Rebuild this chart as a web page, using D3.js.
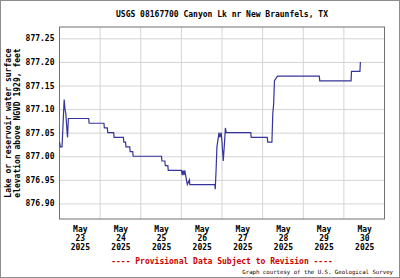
<!DOCTYPE html>
<html>
<head>
<meta charset="utf-8">
<script src="https://cdn.jsdelivr.net/npm/d3@7"></script>
<style>
  body { margin: 0; background: #fff; }
  svg { display: block; }
  text { font-family: "DejaVu Sans Mono", monospace; }
</style>
</head>
<body>
<div id="graph"></div>
<script>
const WIDTH = 400, HEIGHT = 278;
const margin = {top: 27, right: 15.5, bottom: 59, left: 59.5};

// readings: time (UTC, 2025) and gage height
const times = [
  "05-23 00:00", "05-23 00:30", "05-23 01:30", "05-23 02:00", "05-23 02:45", "05-23 03:15",
  "05-23 03:45", "05-23 04:30", "05-23 04:45", "05-23 05:15", "05-23 17:15", "05-23 17:30",
  "05-24 02:15", "05-24 02:30", "05-24 04:15", "05-24 04:30", "05-24 08:00", "05-24 08:15",
  "05-24 13:45", "05-24 14:00", "05-24 15:00", "05-24 15:15", "05-24 17:30", "05-24 17:45",
  "05-24 19:15", "05-24 19:30", "05-25 12:15", "05-25 12:30", "05-25 14:15", "05-25 14:30",
  "05-25 16:00", "05-25 16:15", "05-26 00:00", "05-26 00:30", "05-26 01:00", "05-26 01:30",
  "05-26 02:00", "05-26 03:00", "05-26 03:30", "05-26 04:45", "05-26 05:00", "05-26 19:45",
  "05-26 20:00", "05-26 20:30", "05-26 21:00", "05-26 22:15", "05-26 22:45", "05-26 23:30",
  "05-27 00:00", "05-27 00:45", "05-27 01:30", "05-27 02:00", "05-27 02:30", "05-27 17:00",
  "05-27 17:15", "05-28 02:45", "05-28 03:00", "05-28 05:30", "05-28 06:00", "05-28 06:30",
  "05-28 07:00", "05-28 08:45", "05-29 09:30", "05-29 09:45", "05-30 04:15", "05-30 04:30",
  "05-30 09:30", "05-30 09:45"
];
const levels = [
  877.03, 877.02, 877.02, 877.06, 877.12, 877.10,
  877.09, 877.05, 877.04, 877.08, 877.08, 877.07,
  877.07, 877.06, 877.06, 877.05, 877.05, 877.04,
  877.04, 877.03, 877.03, 877.02, 877.02, 877.01,
  877.01, 877.00, 877.00, 876.99, 876.99, 876.98,
  876.98, 876.97, 876.97, 876.96, 876.97, 876.96,
  876.97, 876.95, 876.94, 876.95, 876.94, 876.94,
  876.93, 876.97, 877.02, 877.05, 877.04, 877.05,
  877.03, 876.99, 877.03, 877.06, 877.05, 877.05,
  877.04, 877.04, 877.03, 877.03, 877.09, 877.11,
  877.16, 877.17, 877.17, 877.16, 877.16, 877.18,
  877.18, 877.20
];

const yTicks = [876.90, 876.95, 877.00, 877.05, 877.10, 877.15, 877.20, 877.25];
const dayLabels = ["23", "24", "25", "26", "27", "28", "29", "30"];

const parseTime = d3.utcParse("%Y-%m-%d %H:%M");
let data = times.map(function(t, i) { return {date: parseTime("2025-" + t), value: levels[i]}; });

let plot_width = WIDTH - margin.left - margin.right;
let plot_height = HEIGHT - margin.top - margin.bottom;

let svg = d3.select("#graph")
    .append("svg")
    .attr("width", WIDTH)
    .attr("height", HEIGHT);

// outer frame
svg.append("rect")
    .attr("x", 0.5).attr("y", 0.5)
    .attr("width", WIDTH - 1).attr("height", HEIGHT - 1)
    .attr("fill", "none").attr("stroke", "#8c8c8c");

let g = svg.append("g")
    .attr("transform", `translate(${margin.left}, ${margin.top})`);

let x = d3.scaleUtc()
    .domain([parseTime("2025-05-23 00:00"), parseTime("2025-05-31 00:00")])
    .range([0, plot_width]);

let y = d3.scaleLinear()
    .domain([876.867, 877.274])
    .range([plot_height, 0]);

// horizontal grid + y labels
let yAxis = g.append("g")
    .call(d3.axisLeft(y).tickValues(yTicks).tickSize(-plot_width).tickPadding(5)
        .tickFormat(d3.format(".2f")));
yAxis.select(".domain").remove();
yAxis.selectAll("line").attr("stroke", "#d4d4d4");
yAxis.selectAll("text")
    .style("font-size", "8px")
    .style("font-weight", "bold")
    .attr("fill", "#000");

// vertical grid at midnight
let midnights = dayLabels.slice(1).map(function(d) { return parseTime("2025-05-" + d + " 00:00"); });
g.append("g").selectAll("line")
    .data(midnights)
    .join("line")
    .attr("x1", function(d) { return x(d); })
    .attr("x2", function(d) { return x(d); })
    .attr("y1", 0).attr("y2", plot_height)
    .attr("stroke", "#d4d4d4");

// date labels at noon
let noons = dayLabels.map(function(d) { return parseTime("2025-05-" + d + " 12:00"); });
let xAxis = g.append("g")
    .attr("transform", `translate(0, ${plot_height})`)
    .call(d3.axisBottom(x).tickValues(noons).tickSize(0).tickFormat(""));
xAxis.select(".domain").remove();
xAxis.selectAll(".tick text").remove();
xAxis.selectAll(".tick").each(function(d, i) {
    let t = d3.select(this).append("text")
        .attr("fill", "#000")
        .attr("text-anchor", "middle")
        .style("font-size", "8px")
        .style("font-weight", "bold");
    ["May", dayLabels[i], "2025"].forEach(function(s, k) {
        t.append("tspan").attr("x", 0).attr("y", 13 + k * 9).text(s);
    });
});

// plot border
g.append("rect")
    .attr("width", plot_width).attr("height", plot_height)
    .attr("fill", "none").attr("stroke", "#707070");

// the series
let line = d3.line()
    .x(function(d) { return x(d.date); })
    .y(function(d) { return y(d.value); });

g.append("path")
    .datum(data)
    .attr("fill", "none")
    .attr("stroke", "#34349a")
    .attr("stroke-width", 1.2)
    .attr("d", line);

// title
svg.append("text")
    .attr("x", margin.left + plot_width / 2)
    .attr("y", 17)
    .attr("text-anchor", "middle")
    .style("font-size", "8px")
    .style("font-weight", "bold")
    .text("USGS 08167700 Canyon Lk nr New Braunfels, TX");

// y axis title
let ytitle = svg.append("text")
    .attr("transform", `translate(0, ${margin.top + plot_height / 2}) rotate(-90)`)
    .attr("text-anchor", "middle")
    .style("font-size", "8px")
    .style("font-weight", "bold");
ytitle.append("tspan").attr("x", 0).attr("y", 11).text("Lake or reservoir water surface");
ytitle.append("tspan").attr("x", 0).attr("y", 20).text("elevation above NGVD 1929, feet");

// provisional note
svg.append("text")
    .attr("x", margin.left + plot_width / 2)
    .attr("y", 263.5)
    .attr("text-anchor", "middle")
    .attr("fill", "#cc0000")
    .style("font-size", "8px")
    .style("font-weight", "bold")
    .text("---- Provisional Data Subject to Revision ----");

svg.append("text")
    .attr("x", 393)
    .attr("y", 274)
    .attr("text-anchor", "end")
    .style("font-size", "5.7px")
    .text("Graph courtesy of the U.S. Geological Survey");
</script>
</body>
</html>
